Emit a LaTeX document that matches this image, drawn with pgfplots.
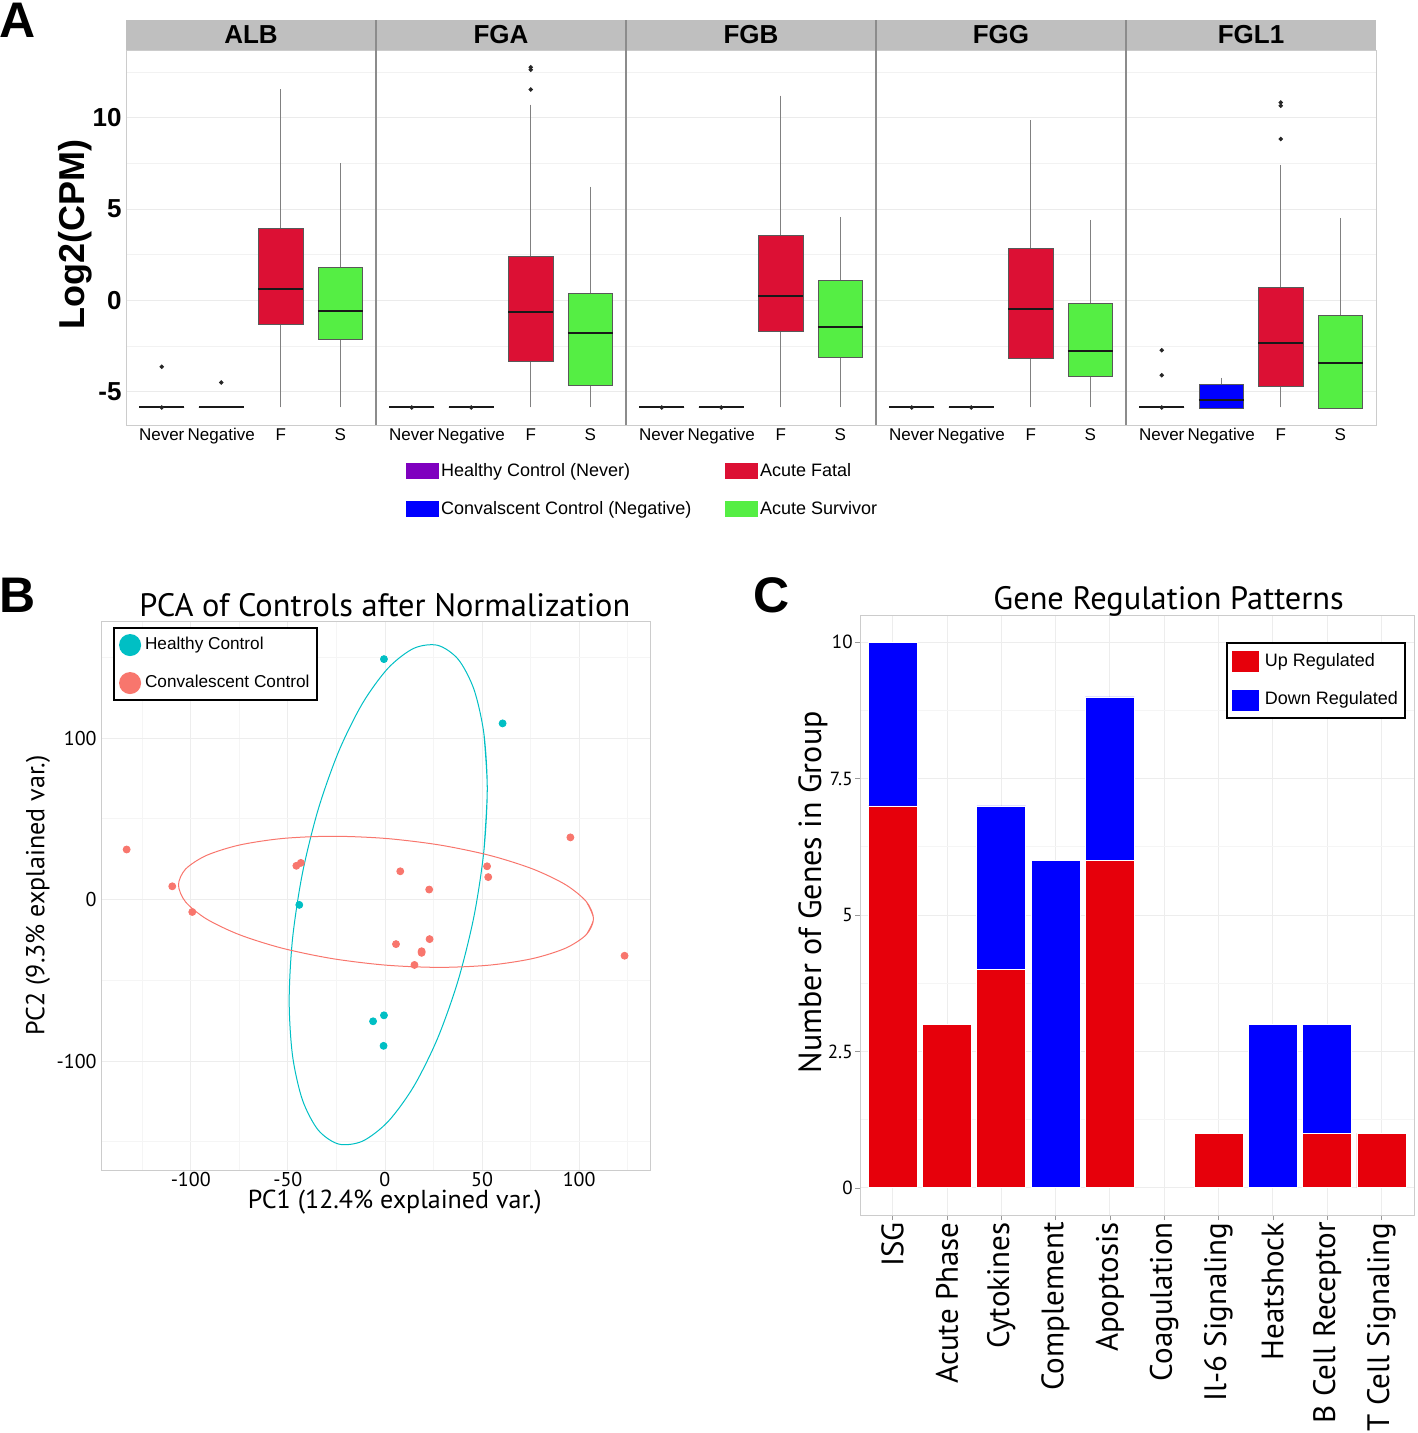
\documentclass[border=0pt]{standalone}
\usepackage{pgfplots}
\pgfplotsset{compat=1.18}
\usepgfplotslibrary{statistics}
\usepackage{fontspec}
\setmainfont{Liberation Sans}
\newfontfamily\myr{PT Sans}
\definecolor{hc}{RGB}{127,0,191}
\definecolor{cc}{RGB}{0,0,255}
\definecolor{af}{RGB}{220,16,52}
\definecolor{as}{RGB}{85,238,68}
\definecolor{pcteal}{RGB}{0,191,196}
\definecolor{pcred}{RGB}{248,118,109}
\definecolor{upr}{RGB}{230,0,11}
\definecolor{dnb}{RGB}{0,0,255}
\newcommand{\bx}[8]{%
\addplot[forget plot, boxplot prepared={draw position=#1, lower whisker=#2, lower quartile=#3, median=#4, upper quartile=#5, upper whisker=#6}, fill=#7, draw=black!65, line width=0.4pt, mark=*, mark size=0.9pt, mark options={fill=black!85, draw=black!85}] coordinates {#8};}
\newcommand{\flatbx}[3]{\bx{#1}{-5.87}{-5.87}{-5.87}{-5.87}{-5.87}{#2}{#3}}
\pgfplotsset{
 facet/.style={scale only axis, width=125pt, height=187.5pt, anchor=south west,
  xmin=0.4, xmax=4.6, ymin=-6.83, ymax=13.72,
  xtick={1,2,3,4}, xticklabels={Never,Negative,F,S},
  ytick={-5,0,5,10}, minor ytick={-2.5,2.5,7.5,12.5},
  ymajorgrids, yminorgrids, major grid style={black!8}, minor grid style={black!5},
  axis line style={black!20}, tick style={draw=none},
  /pgf/number format/assume math mode=true,
  xticklabel style={font=\fontsize{8.5}{10}\selectfont, inner sep=1.5pt},
  yticklabel style={font=\bfseries\fontsize{13}{14}\selectfont, inner sep=2pt},
  clip=false,
  boxplot/draw direction=y,
  boxplot/box extend=0.75,
  boxplot/whisker extend=0,
  boxplot/every median/.style={draw=black!90, line width=1pt},
  boxplot/every whisker/.style={draw=black!50, line width=0.4pt},
 },
}
\newcommand{\strip}[2]{%
 \fill[black!25] (rel axis cs:0,1) rectangle (rel axis cs:1,1.08);
 \node[font=\bfseries\fontsize{13}{14}\selectfont] at (rel axis cs:0.5,1.04) {#1};
 \ifnum#2=1 \draw[black!45, line width=0.6pt] (rel axis cs:0,0) -- (rel axis cs:0,1.08);\fi
}
\begin{document}
\begin{tikzpicture}
\path[use as bounding box] (0pt,0pt) rectangle (708.5pt,-716.5pt);
% panel letters
\node[anchor=base west, inner sep=0pt, font=\bfseries\fontsize{25}{25}\selectfont] at (-0.5pt,-19pt) {A};
\node[anchor=base west, inner sep=0pt, font=\bfseries\fontsize{25}{25}\selectfont] at (-0.5pt,-306pt) {B};
\node[anchor=base west, inner sep=0pt, font=\bfseries\fontsize{25}{25}\selectfont] at (376.5pt,-306pt) {C};

% ---------- Panel A ----------
\begin{axis}[facet, at={(63pt,-212.5pt)}, yticklabels={-5,0,5,10},
  ylabel={Log2(CPM)}, ylabel style={at={(axis description cs:-0.204,0.507)}, anchor=center, font=\bfseries\fontsize{18}{20}\selectfont}]
\strip{ALB}{0}
\flatbx{1}{hc}{(1,-3.64) (1,-5.87)}
\flatbx{2}{cc}{(2,-4.5)}
\bx{3}{-5.87}{-1.29}{0.64}{3.97}{11.57}{af}{}
\bx{4}{-5.87}{-2.13}{-0.58}{1.79}{7.5}{as}{}
\end{axis}

\begin{axis}[facet, at={(188pt,-212.5pt)}, yticklabels={}]
\strip{FGA}{1}
\flatbx{1}{hc}{(1,-5.87)}
\flatbx{2}{cc}{(2,-5.87)}
\bx{3}{-5.87}{-3.32}{-0.66}{2.40}{10.73}{af}{(3,11.55) (3,12.64) (3,12.77)}
\bx{4}{-5.87}{-4.68}{-1.80}{0.38}{6.23}{as}{}
\end{axis}

\begin{axis}[facet, at={(313pt,-212.5pt)}, yticklabels={},
  legend columns=2, legend cell align=left,
  legend style={draw=none, fill=none, at={(axis description cs:-0.88,-0.095)}, anchor=north west,
   inner sep=0pt, row sep=9pt, column sep=0pt, font=\fontsize{9}{10.8}\selectfont,
   nodes={inner sep=1pt}, /tikz/every even column/.append style={column sep=16pt}}]
\strip{FGB}{1}
\flatbx{1}{hc}{(1,-5.87)}
\flatbx{2}{cc}{(2,-5.87)}
\bx{3}{-5.87}{-1.68}{0.22}{3.57}{11.22}{af}{}
\bx{4}{-5.87}{-3.15}{-1.46}{1.09}{4.57}{as}{}
\addlegendimage{legend image code/.code={\fill[hc] (0pt,-3.75pt) rectangle (16pt,3.75pt);}}
\addlegendentry{Healthy Control (Never)}
\addlegendimage{legend image code/.code={\fill[af] (0pt,-3.75pt) rectangle (16pt,3.75pt);}}
\addlegendentry{Acute Fatal}
\addlegendimage{legend image code/.code={\fill[cc] (0pt,-3.75pt) rectangle (16pt,3.75pt);}}
\addlegendentry{Convalscent Control (Negative)}
\addlegendimage{legend image code/.code={\fill[as] (0pt,-3.75pt) rectangle (16pt,3.75pt);}}
\addlegendentry{Acute Survivor}
\end{axis}

\begin{axis}[facet, at={(438pt,-212.5pt)}, yticklabels={}]
\strip{FGG}{1}
\flatbx{1}{hc}{(1,-5.87)}
\flatbx{2}{cc}{(2,-5.87)}
\bx{3}{-5.87}{-3.19}{-0.49}{2.84}{9.87}{af}{}
\bx{4}{-5.87}{-4.17}{-2.75}{-0.18}{4.41}{as}{}
\end{axis}

\begin{axis}[facet, at={(563pt,-212.5pt)}, yticklabels={}]
\strip{FGL1}{1}
\flatbx{1}{hc}{(1,-2.73) (1,-4.1) (1,-5.87)}
\bx{2}{-5.90}{-5.90}{-5.46}{-4.63}{-4.25}{cc}{}
\bx{3}{-5.87}{-4.70}{-2.31}{0.69}{7.42}{af}{(3,8.84) (3,10.66) (3,10.84)}
\bx{4}{-5.90}{-5.90}{-3.44}{-0.80}{4.52}{as}{}
\end{axis}

% ---------- Panel B ----------
\begin{axis}[scale only axis, width=274.5pt, height=274.5pt, anchor=south west, at={(50.5pt,-585pt)},
  xmin=-146.2, xmax=136.5, ymin=-167.5, ymax=172.5,
  xtick={-100,-50,0,50,100}, xticklabels={-100,-50,0,50,100},
  ytick={-100,0,100}, yticklabels={-100,0,100},
  minor xtick={-125,-75,-25,25,75,125}, minor ytick={-150,-50,50,150},
  grid=both, major grid style={black!7}, minor grid style={black!4},
  axis line style={black!20}, tick style={draw=none},
  /pgf/number format/assume math mode=true,
  xticklabel style={font=\myr\fontsize{10}{12}\selectfont, inner sep=1pt},
  yticklabel style={font=\myr\fontsize{10}{12}\selectfont, inner sep=2pt},
  xlabel={PC1 (12.4\% explained var.)},
  xlabel style={at={(axis description cs:0.535,-0.036)}, anchor=north, inner sep=0pt, font=\myr\fontsize{13}{15}\selectfont},
  ylabel={PC2 (9.3\% explained var.)},
  ylabel style={at={(axis description cs:-0.115,0.5)}, anchor=center, inner sep=0pt, font=\myr\fontsize{13}{15}\selectfont},
  title={PCA of Controls after Normalization},
  every axis title shift=0pt,
  title style={at={(axis description cs:0.517,1)}, anchor=base, yshift=2.5pt, inner sep=0pt, font=\myr\fontsize{16.2}{19}\selectfont},
  legend cell align=left,
  legend style={at={(axis description cs:0.022,0.989)}, anchor=north west, draw=black, line width=1pt,
   fill=white, inner xsep=2.5pt, inner ysep=3pt, row sep=8pt, column sep=1pt, font=\fontsize{8.6}{10.5}\selectfont, nodes={inner sep=1pt}},
  clip=false]
\addplot[pcteal, line width=0.5pt, smooth, forget plot] coordinates {(50.96,30.12) (52.7,68.7) (50.96,102.8) (45.87,130.1) (37.76,148.74) (27.2,157.44) (14.9,155.6) (1.7,143.4) (-11.5,121.6) (-23.8,91.74) (-34.36,55.82) (-42.47,16.3) (-47.56,-24.12) (-49.3,-62.7) (-47.56,-96.8) (-42.47,-124.1) (-34.36,-142.74) (-23.8,-151.44) (-11.5,-149.6) (1.7,-137.4) (14.9,-115.6) (27.2,-85.74) (37.76,-49.82) (45.87,-10.3) (50.96,30.12) (52.7,68.7) (50.96,102.8)};
\addplot[pcred, line width=0.5pt, smooth, forget plot] coordinates {(103.76,-21.65) (107.4,-11.86) (103.76,-1.35) (93.08,9.16) (76.1,18.94) (53.98,27.34) (28.2,33.78) (0.55,37.83) (-27.1,39.2) (-52.88,37.8) (-75.0,33.74) (-91.98,27.28) (-102.66,18.85) (-106.3,9.06) (-102.66,-1.45) (-91.98,-11.96) (-75.0,-21.74) (-52.88,-30.14) (-27.1,-36.58) (0.55,-40.63) (28.2,-42.0) (53.98,-40.6) (76.1,-36.54) (93.08,-30.08) (103.76,-21.65) (107.4,-11.86) (103.76,-1.35)};
\addplot[only marks, mark=*, mark size=1.75pt, pcteal, forget plot] coordinates {(-0.5,148.9) (60.6,109.1) (-44.1,-3.3) (-0.5,-71.7) (-6.1,-75.4) (-0.7,-90.6)};
\addplot[only marks, mark=*, mark size=1.75pt, pcred, forget plot] coordinates {(-133,31) (-109.5,8.2) (-99.2,-7.7) (-45.6,20.9) (-43.3,22.7) (7.9,17.5) (22.8,6.2) (52.6,20.6) (53.2,13.9) (95.5,38.5) (5.7,-27.6) (23.0,-24.5) (18.9,-32) (18.9,-33) (15.2,-40.5) (123.4,-34.8)};
\addlegendimage{legend image code/.code={\fill[pcteal] (8.5pt,0pt) circle (5pt);}}
\addlegendentry{Healthy Control}
\addlegendimage{legend image code/.code={\fill[pcred] (8.5pt,0pt) circle (5pt);}}
\addlegendentry{Convalescent Control}
\end{axis}

% ---------- Panel C ----------
\begin{axis}[scale only axis, width=277pt, height=300pt, anchor=south west, at={(430pt,-607.5pt)},
  ybar stacked, bar width=0.9,
  xmin=0.4, xmax=10.6, ymin=-0.5, ymax=10.5,
  xtick={1,2,3,4,5,6,7,8,9,10},
  xticklabels={ISG,Acute Phase,Cytokines,Complement,Apoptosis,Coagulation,Il-6 Signaling,Heatshock,B Cell Receptor,T Cell Signaling},
  ytick={0,2.5,5,7.5,10}, yticklabels={0,2.5,5,7.5,10},
  minor ytick={1.25,3.75,6.25,8.75},
  xmajorgrids, ymajorgrids, yminorgrids, major grid style={black!7}, minor grid style={black!4},
  axis line style={black!20}, tick style={black!40}, major tick length=2.5pt, tick align=outside,
  minor tick length=0pt, tick pos=left,
  /pgf/number format/assume math mode=true,
  xticklabel style={rotate=90, anchor=east, font=\myr\fontsize{15.5}{18}\selectfont, inner sep=1pt},
  yticklabel style={font=\myr\fontsize{9.5}{11}\selectfont, inner sep=1pt},
  ylabel={Number of Genes in Group},
  ylabel style={at={(axis description cs:-0.085,0.538)}, anchor=center, inner sep=0pt, font=\myr\fontsize{16}{18}\selectfont},
  title={Gene Regulation Patterns},
  every axis title shift=0pt,
  title style={at={(axis description cs:0.557,1)}, anchor=base, yshift=3pt, inner sep=0pt, font=\myr\fontsize{16.2}{19}\selectfont},
  legend cell align=left,
  legend style={at={(axis description cs:0.661,0.955)}, anchor=north west, draw=black, line width=1pt,
   fill=white, inner xsep=2.5pt, inner ysep=4pt, row sep=9pt, column sep=2pt, font=\fontsize{9}{10.8}\selectfont, nodes={inner sep=1pt}},
  clip=false]
\addplot[fill=upr, draw=white, line width=0.3pt, legend image code/.code={\fill[upr] (4pt,-5pt) rectangle (17pt,5pt);}] coordinates {(1,7) (2,3) (3,4) (4,0) (5,6) (6,0) (7,1) (8,0) (9,1) (10,1)};
\addlegendentry{Up Regulated}
\addplot[fill=dnb, draw=white, line width=0.3pt, legend image code/.code={\fill[dnb] (4pt,-5pt) rectangle (17pt,5pt);}] coordinates {(1,3) (2,0) (3,3) (4,6) (5,3) (6,0) (7,0) (8,3) (9,2) (10,0)};
\addlegendentry{Down Regulated}
\end{axis}
\end{tikzpicture}
\end{document}
